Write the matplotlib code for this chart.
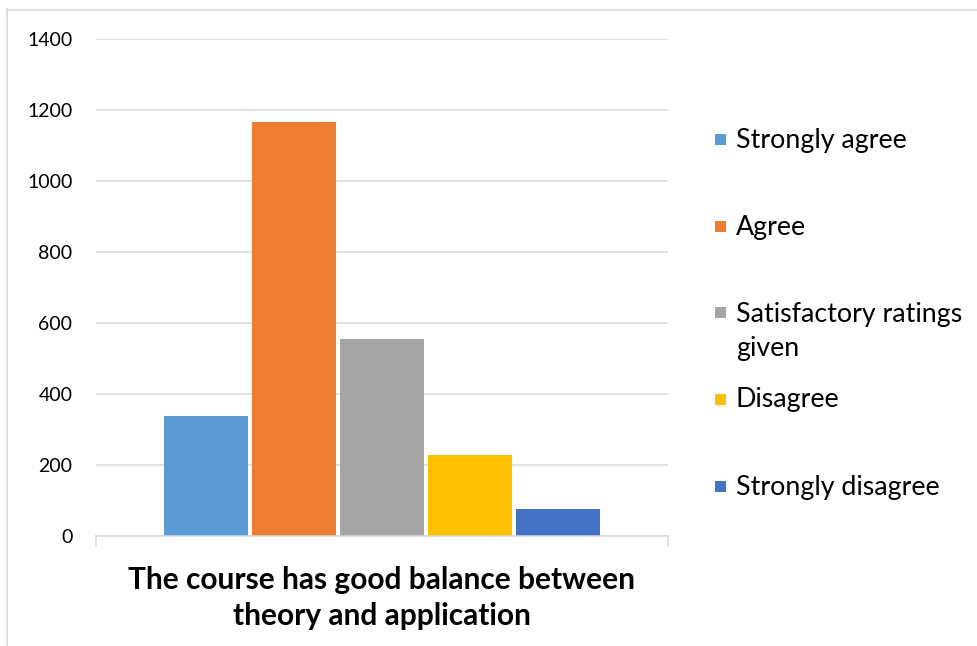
import matplotlib
matplotlib.use("Agg")
import matplotlib.pyplot as plt
from matplotlib.patches import Rectangle
from matplotlib.lines import Line2D

categories = ["Strongly agree", "Agree", "Satisfactory ratings\ngiven", "Disagree", "Strongly disagree"]
values = [338, 1166, 554, 229, 76]
colors = ["#5B9BD5", "#ED7D31", "#A5A5A5", "#FFC000", "#4472C4"]
yticks = [0, 200, 400, 600, 800, 1000, 1200, 1400]
xlabel = "The course has good balance between\ntheory and application"

plt.rcParams['font.family'] = ['Lato', 'DejaVu Sans']

W, H = 978, 646
fig = plt.figure(figsize=(W / 100, H / 100), dpi=100)

def fx(px):
    return px / W

def fy(py):
    return 1 - py / H

ax = fig.add_axes([fx(96), fy(536), fx(668) - fx(96), fy(39) - fy(536)])
ax.set_xlim(0, 1)
ax.set_ylim(0, 1400)

pitch = 88 / 572
bw = 84 / 572
for i, (v, c) in enumerate(zip(values, colors)):
    ax.bar(0.5 + (i - 2) * pitch, v, width=bw, color=c, edgecolor='none', zorder=3)

ax.set_yticks(yticks)
ax.set_yticklabels([str(t) for t in yticks], fontsize=14, color='#000000')
ax.tick_params(axis='y', length=0, pad=17)
ax.set_xticks([])
ax.grid(axis='y', color='#D9D9D9', linewidth=1.1, zorder=0)
for s in ['top', 'right', 'left']:
    ax.spines[s].set_visible(False)
ax.spines['bottom'].set_color('#D9D9D9')
ax.spines['bottom'].set_linewidth(1.1)
ax.spines['bottom'].set_zorder(4)
# category boundary tick marks
for xb in [0, 1]:
    ax.plot([xb, xb], [0, -28], color='#D9D9D9', lw=1.1, clip_on=False, zorder=4)

fig.text(fx(382), fy(598), xlabel, ha='center', va='center', fontsize=21.5,
         fontweight='bold', linespacing=1.38)

# legend
leg_y = [140, 227, 313, 400, 487]
for cat, c, y in zip(categories, colors, leg_y):
    fig.patches.append(Rectangle((fx(715), fy(y + 5)), fx(11), fy(0) - fy(11),
                                 transform=fig.transFigure, facecolor=c,
                                 edgecolor='none'))
    ty = y + 18.5 if '\n' in cat else y
    fig.text(fx(736), fy(ty), cat, ha='left', va='center',
             fontsize=19.3, linespacing=1.45)

# outer border (top and left visible)
fig.add_artist(Line2D([fx(7), 1], [fy(9.5), fy(9.5)], transform=fig.transFigure,
                      color='#D9D9D9', lw=1.2))
fig.add_artist(Line2D([fx(7.5), fx(7.5)], [fy(9), 0], transform=fig.transFigure,
                      color='#D9D9D9', lw=1.2))

fig.savefig("out.png", dpi=100)
